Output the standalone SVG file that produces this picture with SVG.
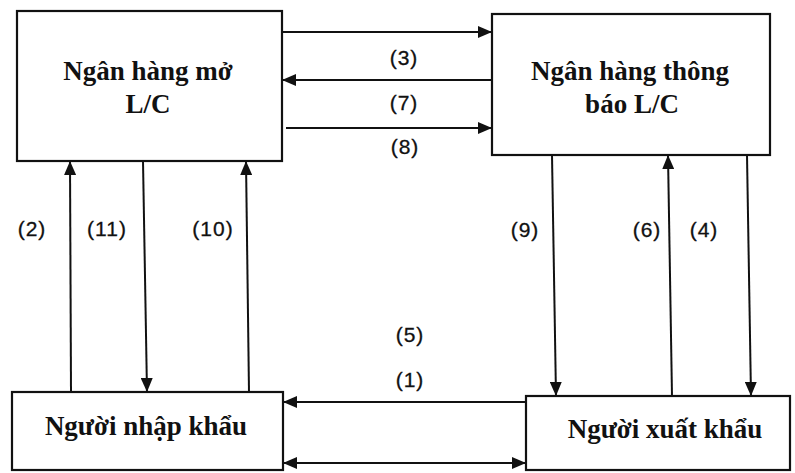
<svg xmlns="http://www.w3.org/2000/svg" width="795" height="473" viewBox="0 0 795 473">
  <style>
    .box { fill: #ffffff; stroke: #111111; stroke-width: 2.2; }
    .title { font-family: "Liberation Serif", "Times New Roman", serif; font-weight: bold; font-size: 27px; fill: #111111; text-anchor: middle; }
    .lbl { font-family: "Liberation Sans", Arial, sans-serif; font-size: 21px; fill: #111111; stroke: #111111; stroke-width: 0.3; text-anchor: middle; letter-spacing: 1px; }
    .link { fill: none; stroke: #111111; stroke-width: 2; }
  </style>
  <defs>
    <marker id="arrow" viewBox="0 0 14 12" refX="14" refY="6" markerWidth="14" markerHeight="12" markerUnits="userSpaceOnUse" orient="auto-start-reverse">
      <path d="M0,0 L14,6 L0,12 Z" fill="#111111"/>
    </marker>
  </defs>
  <rect width="795" height="473" fill="#ffffff"/>

  <g id="issuing-bank">
    <rect class="box" x="17" y="11" width="265" height="150"/>
    <text class="title" x="148" y="80">Ngân hàng mở</text>
    <text class="title" x="148" y="113">L/C</text>
  </g>

  <g id="advising-bank">
    <rect class="box" x="492" y="14" width="278" height="141"/>
    <text class="title" x="630" y="80">Ngân hàng thông</text>
    <text class="title" x="632" y="113">báo L/C</text>
  </g>

  <g id="importer">
    <rect class="box" x="12" y="392" width="271" height="78"/>
    <text class="title" x="146" y="435">Người nhập khẩu</text>
  </g>

  <g id="exporter">
    <rect class="box" x="526" y="396" width="264" height="74"/>
    <text class="title" x="665" y="438">Người xuất khẩu</text>
  </g>

  <g id="connectors">
    <!-- between the two banks -->
    <line class="link" x1="282" y1="32" x2="492" y2="32" marker-end="url(#arrow)"/>
    <line class="link" x1="492" y1="80" x2="282" y2="80" marker-end="url(#arrow)"/>
    <line class="link" x1="286" y1="128" x2="492" y2="128" marker-end="url(#arrow)"/>
    <!-- importer and issuing bank -->
    <line class="link" x1="71" y1="392" x2="70" y2="161" marker-end="url(#arrow)"/>
    <line class="link" x1="143" y1="161" x2="147" y2="392" marker-end="url(#arrow)"/>
    <line class="link" x1="249" y1="392" x2="246" y2="161" marker-end="url(#arrow)"/>
    <!-- advising bank and exporter -->
    <line class="link" x1="552" y1="155" x2="556" y2="396" marker-end="url(#arrow)"/>
    <line class="link" x1="672" y1="396" x2="668" y2="155" marker-end="url(#arrow)"/>
    <line class="link" x1="747" y1="155" x2="751" y2="396" marker-end="url(#arrow)"/>
    <!-- importer and exporter -->
    <line class="link" x1="526" y1="402" x2="283" y2="402" marker-end="url(#arrow)"/>
    <line class="link" x1="283" y1="463" x2="526" y2="463" marker-start="url(#arrow)" marker-end="url(#arrow)"/>

    <text class="lbl" x="404" y="65">(3)</text>
    <text class="lbl" x="404" y="110">(7)</text>
    <text class="lbl" x="405" y="154">(8)</text>
    <text class="lbl" x="32" y="236">(2)</text>
    <text class="lbl" x="107" y="236">(11)</text>
    <text class="lbl" x="213" y="236">(10)</text>
    <text class="lbl" x="525" y="237">(9)</text>
    <text class="lbl" x="647" y="237">(6)</text>
    <text class="lbl" x="704" y="237">(4)</text>
    <text class="lbl" x="410" y="342">(5)</text>
    <text class="lbl" x="410" y="387">(1)</text>
  </g>
</svg>
